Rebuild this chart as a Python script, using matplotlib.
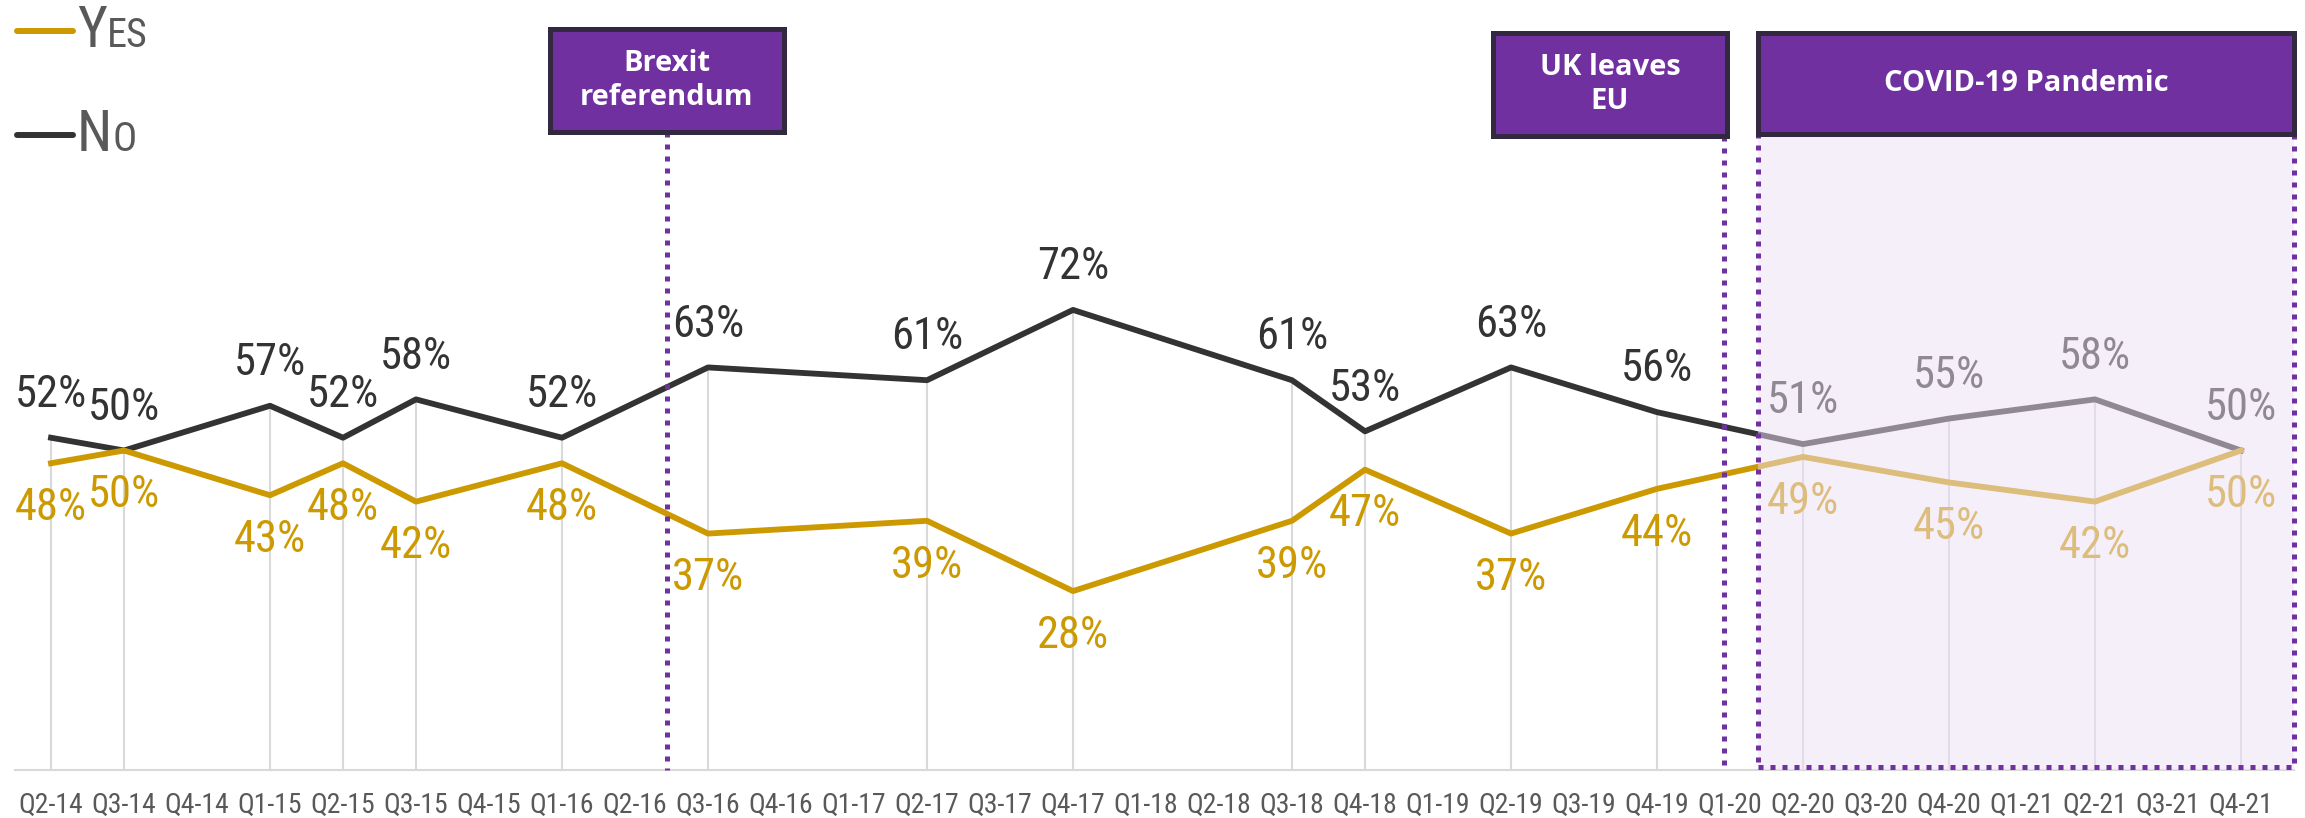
import matplotlib.pyplot as plt
from matplotlib.patches import Rectangle

# all quarters on the axis
quarters = ['Q2-14', 'Q3-14', 'Q4-14', 'Q1-15', 'Q2-15', 'Q3-15', 'Q4-15', 'Q1-16',
            'Q2-16', 'Q3-16', 'Q4-16', 'Q1-17', 'Q2-17', 'Q3-17', 'Q4-17', 'Q1-18',
            'Q2-18', 'Q3-18', 'Q4-18', 'Q1-19', 'Q2-19', 'Q3-19', 'Q4-19', 'Q1-20',
            'Q2-20', 'Q3-20', 'Q4-20', 'Q1-21', 'Q2-21', 'Q3-21', 'Q4-21']

# quarters with a survey result
survey_quarters = ['Q2-14', 'Q3-14', 'Q1-15', 'Q2-15', 'Q3-15', 'Q1-16', 'Q3-16', 'Q2-17',
                   'Q4-17', 'Q3-18', 'Q4-18', 'Q2-19', 'Q4-19', 'Q2-20', 'Q4-20', 'Q2-21', 'Q4-21']
yes_vals = [48, 50, 43, 48, 42, 48, 37, 39, 28, 39, 47, 37, 44, 49, 45, 42, 50]
no_vals = [52, 50, 57, 52, 58, 52, 63, 61, 72, 61, 53, 63, 56, 51, 55, 58, 50]

events = ['Brexit\nreferendum', 'UK leaves\nEU', 'COVID-19 Pandemic']

YES_C = '#CC9A00'
NO_C = '#333333'
PURPLE = '#7030A0'
DARK = '#32283F'
GREY_TXT = '#595959'
GRID = '#D9D9D9'
NARROW = dict(family=['Roboto Condensed', 'DejaVu Sans'], fontstretch='condensed')

W, H = 2305, 818
fig = plt.figure(figsize=(W / 100, H / 100), dpi=100)
ax = fig.add_axes([0, 0, 1, 1])
ax.axis('off')

# pixel <-> data helpers (quarter spacing 73px, 1% = 6.39px, 0% at y=770px)
def px(p):
    return (p - 51) / 73.0

def py(p):
    return (770 - p) / 6.39

ax.set_xlim(px(0), px(W))
ax.set_ylim(py(H), py(0))

xs = [quarters.index(q) for q in survey_quarters]

# drop lines and baseline
for x, a, b in zip(xs, yes_vals, no_vals):
    ax.plot([x, x], [0, max(a, b)], color=GRID, lw=1.5, zorder=1)
ax.plot([px(15), px(2294)], [0, 0], color=GRID, lw=1.5, zorder=1)

ax.plot(xs, no_vals, color=NO_C, lw=4.2, zorder=4)
ax.plot(xs, yes_vals, color=YES_C, lw=4.2, zorder=4)

for x, v in zip(xs, no_vals):
    ax.text(x, v + 6.7, f'{v}%', ha='center', va='center', fontsize=32,
            color=NO_C, zorder=5, **NARROW)
for x, v in zip(xs, yes_vals):
    ax.text(x, v - 7.0, f'{v}%', ha='center', va='center', fontsize=32,
            color=YES_C, zorder=5, **NARROW)

for i, q in enumerate(quarters):
    ax.text(i, py(805), q, ha='center', va='center', fontsize=20,
            color=GREY_TXT, **NARROW)

# event markers
dot = (0, (1, 1.4))
ax.plot([px(667), px(667)], [py(132), 0], color=PURPLE, lw=3.6, ls=dot,
        dash_capstyle='butt', zorder=6)
ax.plot([px(1724), px(1724)], [py(136), 0], color=PURPLE, lw=3.6, ls=dot,
        dash_capstyle='butt', zorder=6)

def box(x0, x1, y0, y1, text):
    r = Rectangle((px(x0), py(y1)), px(x1) - px(x0), py(y0) - py(y1),
                  facecolor=PURPLE, edgecolor=DARK, lw=3.6, zorder=12)
    ax.add_patch(r)
    ax.text((px(x0) + px(x1)) / 2, (py(y0) + py(y1)) / 2, text, ha='center',
            va='center', color='white', fontsize=21, fontweight='bold',
            family=['Open Sans', 'DejaVu Sans'], linespacing=1.2, zorder=13)

# covid shading over the lines
ax.add_patch(Rectangle((px(1758), 0), px(2294) - px(1758), py(134),
                       facecolor='#EDE0F7', alpha=0.5, edgecolor='none', zorder=10))
ax.add_patch(Rectangle((px(1758), py(767)), px(2294) - px(1758), py(134) - py(767),
                       fill=False, edgecolor=PURPLE, lw=3.6, ls=dot, zorder=11))

box(550, 784, 29, 132, events[0])
box(1493, 1727, 33, 136, events[1])
box(1758, 2294, 33, 134, events[2])

# legend with small caps labels
for ly, big, small, c in [(31, 'Y', 'ES', YES_C), (135, 'N', 'O', NO_C)]:
    ax.plot([px(17), px(73)], [py(ly), py(ly)], color=c, lw=4.3,
            solid_capstyle='round', zorder=5)
    base = py(ly + 16)
    t = ax.text(px(77), base, big, ha='left', va='baseline', fontsize=41,
                color=GREY_TXT, **NARROW)
    ax.annotate(small, xy=(1, base), xycoords=(t, 'data'), ha='left', va='baseline',
                fontsize=29, color=GREY_TXT, **NARROW)

fig.savefig('out.png', dpi=100)
